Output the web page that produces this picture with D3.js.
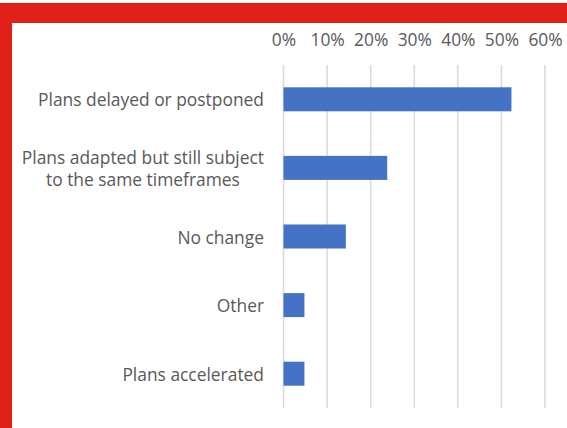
<!DOCTYPE html>
<html>
<head>
<meta charset="utf-8">
<script src="https://cdn.jsdelivr.net/npm/d3@7"></script>
<style>
  html, body { margin: 0; padding: 0; background: #fff; }
  svg { display: block; }
  text { font-family: "Open Sans", "Noto Sans", sans-serif; fill: #595959; }
</style>
</head>
<body>
<svg id="chart" width="567" height="428"></svg>
<script>
// Survey responses: how plans changed
const categories = [
  ["Plans delayed or postponed"],
  ["Plans adapted but still subject", "to the same timeframes"],
  ["No change"],
  ["Other"],
  ["Plans accelerated"]
];
const shares = [52.3, 23.8, 14.3, 4.8, 4.8];
const tickValues = [0, 10, 20, 30, 40, 50, 60];

const svg = d3.select("#chart");
const W = 567, H = 428;
const fontSize = 17.4;

// Red frame along the top and left edges
svg.append("rect").attr("x", 0).attr("y", 3).attr("width", W).attr("height", 20).attr("fill", "#E2201A");
svg.append("rect").attr("x", 0).attr("y", 3).attr("width", 12).attr("height", H - 3).attr("fill", "#E2201A");

const plotTop = 65, plotBottom = 408;
const x = d3.scaleLinear().domain([0, 60]).range([283.5, 545]);
const y = d3.scaleBand()
  .domain(d3.range(categories.length))
  .range([plotTop, plotBottom])
  .paddingInner(0.65)
  .paddingOuter(0.325);

// Vertical gridlines
svg.append("g")
  .selectAll("line")
  .data(tickValues)
  .join("line")
  .attr("x1", d => x(d)).attr("x2", d => x(d))
  .attr("y1", plotTop).attr("y2", plotBottom)
  .attr("stroke", "#D9D9D9")
  .attr("stroke-width", 1.5);

// Percentage axis along the top
const axis = svg.append("g")
  .attr("transform", `translate(0, 46)`)
  .call(d3.axisTop(x).tickValues(tickValues).tickFormat(d => d + "%").tickSize(0).tickPadding(0));
axis.select(".domain").remove();
axis.selectAll("text")
  .attr("font-size", fontSize)
  .attr("fill", "#595959")
  .style("font-family", '"Open Sans", "Noto Sans", sans-serif');

// Bars
svg.append("g")
  .selectAll("rect")
  .data(shares)
  .join("rect")
  .attr("x", x(0))
  .attr("y", (d, i) => y(i))
  .attr("width", d => x(d) - x(0))
  .attr("height", y.bandwidth())
  .attr("fill", "#4472C4");

// Category labels, multi-line labels centered as a block
const labelRight = 264;
const lineGap = 22;
const labels = svg.append("g");
categories.forEach((lines, i) => {
  const cy = y(i) + y.bandwidth() / 2;
  const t = labels.append("text")
    .attr("font-size", fontSize)
    .attr("dominant-baseline", "central");
  if (lines.length === 1) {
    t.attr("x", labelRight).attr("y", cy).attr("text-anchor", "end").text(lines[0]);
  } else {
    // measure the widest line to center the block flush right
    const widths = lines.map(s => {
      const tmp = labels.append("text").attr("font-size", fontSize).text(s);
      const w = tmp.node().getComputedTextLength();
      tmp.remove();
      return w;
    });
    const blockW = Math.max(...widths);
    const cx = labelRight - blockW / 2;
    lines.forEach((s, k) => {
      t.append("tspan")
        .attr("x", cx)
        .attr("y", cy + (k - (lines.length - 1) / 2) * lineGap)
        .attr("text-anchor", "middle")
        .text(s);
    });
  }
});
</script>
</body>
</html>
